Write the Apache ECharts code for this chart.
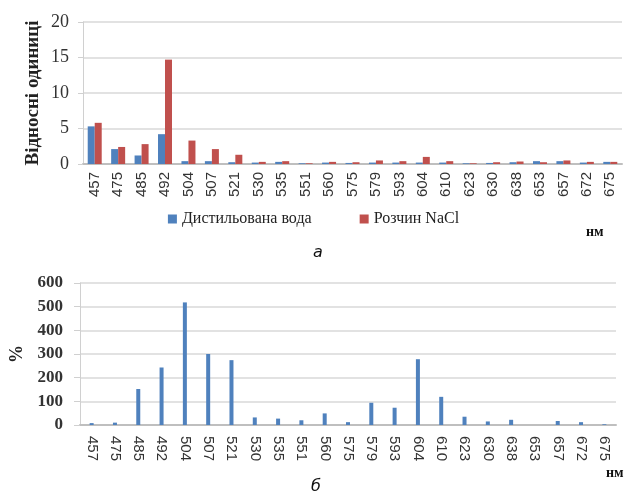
<!DOCTYPE html>
<html>
<head>
<meta charset="utf-8">
<script src="https://cdn.jsdelivr.net/npm/echarts@6/dist/echarts.min.js"></script>
<style>
  html, body { margin: 0; padding: 0; background: #ffffff; }
  #chart { width: 627px; height: 499px; }
</style>
</head>
<body>
<div id="chart"></div>
<script>
// Wavelengths, nm
const wavelengths = ['457','475','485','492','504','507','521','530','535','551','560','575',
                     '579','593','604','610','623','630','638','653','657','672','675'];

// Panel a: relative units
const distilledWater = [5.3, 2.1, 1.2, 4.2, 0.4, 0.4, 0.25, 0.2, 0.3, 0.1, 0.2, 0.15,
                        0.2, 0.2, 0.2, 0.2, 0.1, 0.15, 0.25, 0.4, 0.4, 0.2, 0.3];
const salineSolution = [5.8, 2.4, 2.8, 14.7, 3.3, 2.1, 1.3, 0.3, 0.4, 0.1, 0.3, 0.25,
                        0.5, 0.4, 1.0, 0.4, 0.1, 0.25, 0.35, 0.25, 0.5, 0.3, 0.3];

// Panel б: difference, %
const percentChange = [8, 10, 152, 243, 518, 300, 274, 32, 27, 20, 49, 12,
                       94, 73, 278, 119, 35, 15, 22, -4, 17, 12, 3];

const topTicks = [0, 5, 10, 15, 20];
const bottomTicks = [0, 100, 200, 300, 400, 500, 600];

const legendNames = ['Дистильована вода', 'Розчин NaCl'];

const BLUE = '#4f81bd';
const RED = '#c0504d';
const GRID = '#d9d9d9';
const SERIF = '"Liberation Serif", "DejaVu Serif", serif';
const SANS = '"Liberation Sans", Arial, sans-serif';

const chart = echarts.init(document.getElementById('chart'), null, { renderer: 'canvas' });

chart.setOption({
  backgroundColor: '#ffffff',
  animation: false,
  legend: {
    data: legendNames,
    top: 206,
    left: 'center',
    icon: 'rect',
    itemWidth: 9,
    itemHeight: 9,
    itemGap: 48,
    textStyle: { fontFamily: SERIF, fontSize: 16, color: '#222' }
  },
  grid: [
    { left: 83, right: 5, top: 22, height: 142 },
    { left: 75, right: 11, top: 283, height: 142 }
  ],
  xAxis: [
    {
      gridIndex: 0, type: 'category', data: wavelengths,
      axisLine: { lineStyle: { color: '#bfbfbf', width: 2 } },
      axisTick: { show: false },
      axisLabel: { rotate: 90, margin: 8, fontFamily: SANS, fontSize: 15, color: '#333', interval: 0 }
    },
    {
      gridIndex: 1, type: 'category', data: wavelengths,
      axisLine: { lineStyle: { color: '#bfbfbf', width: 2 } },
      axisTick: { show: false },
      axisLabel: { rotate: -90, margin: 11, fontFamily: SANS, fontSize: 15, color: '#333', interval: 0 }
    }
  ],
  yAxis: [
    {
      gridIndex: 0, type: 'value', min: topTicks[0], max: topTicks[topTicks.length - 1], interval: 5,
      name: 'Відносні одиниці', nameLocation: 'middle', nameGap: 40, nameMoveOverlap: false,
      nameTextStyle: { fontFamily: SERIF, fontSize: 19, fontWeight: 'bold', color: '#222' },
      axisLine: { show: true, lineStyle: { color: '#d0d0d0' } },
      axisTick: { show: true, length: 5, lineStyle: { color: '#d0d0d0' } },
      splitLine: { lineStyle: { color: GRID, width: 1.5 } },
      axisLabel: { margin: 14, fontFamily: SERIF, fontSize: 18, color: '#333' }
    },
    {
      gridIndex: 1, type: 'value', min: bottomTicks[0], max: bottomTicks[bottomTicks.length - 1], interval: 100,
      name: '%', nameLocation: 'middle', nameGap: 54,
      nameTextStyle: { fontFamily: SERIF, fontSize: 18, fontWeight: 'bold', color: '#222' },
      axisLine: { show: true, lineStyle: { color: '#d0d0d0' } },
      axisTick: { show: true, length: 6, lineStyle: { color: '#d0d0d0' } },
      splitLine: { lineStyle: { color: GRID, width: 1.5 } },
      axisLabel: { margin: 17, fontFamily: SERIF, fontSize: 17, fontWeight: 'bold', color: '#333' }
    }
  ],
  series: [
    {
      name: legendNames[0], type: 'bar', xAxisIndex: 0, yAxisIndex: 0,
      data: distilledWater, barWidth: 7, barGap: '0%',
      itemStyle: { color: BLUE }
    },
    {
      name: legendNames[1], type: 'bar', xAxisIndex: 0, yAxisIndex: 0,
      data: salineSolution, barWidth: 7, barGap: '0%',
      itemStyle: { color: RED }
    },
    {
      name: 'percent', type: 'bar', xAxisIndex: 1, yAxisIndex: 1,
      data: percentChange, barWidth: 4,
      itemStyle: { color: BLUE }
    }
  ],
  graphic: [
    { type: 'text', left: 586, top: 225,
      style: { text: 'нм', font: 'bold 14px ' + SERIF, fill: '#111' } },
    { type: 'text', left: 606, top: 466,
      style: { text: 'нм', font: 'bold 14px ' + SERIF, fill: '#111' } },
    { type: 'text', left: 313, top: 245,
      style: { text: 'а', font: 'italic 16px "DejaVu Sans", sans-serif', fill: '#111' } },
    { type: 'text', left: 311, top: 479,
      style: { text: 'б', font: 'italic 16px "DejaVu Sans", sans-serif', fill: '#111' } }
  ]
});
</script>
</body>
</html>
